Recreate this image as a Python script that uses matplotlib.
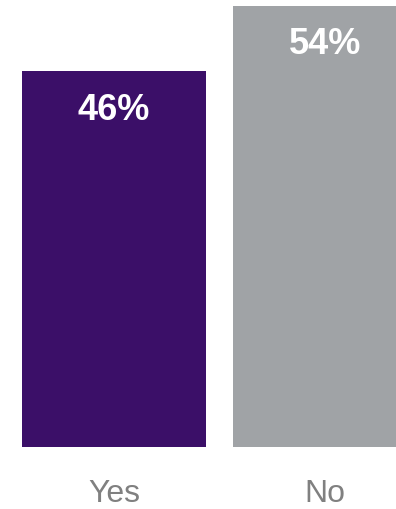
import matplotlib
matplotlib.use("Agg")
import matplotlib.pyplot as plt

# survey answers
categories = ["Yes", "No"]
shares = [46, 54]
bar_colors = ["#3b0f68", "#a0a3a6"]

plt.rcParams['font.family'] = ['Liberation Sans', 'DejaVu Sans']

fig = plt.figure(figsize=(3.96, 5.09), dpi=100)
ax = fig.add_axes([0, 0, 1, 1])

x = list(range(len(categories)))
ax.bar(x, shares, width=0.872, color=bar_colors)

# value labels inside the bars, category labels below
for xi, v, name in zip(x, shares, categories):
    ax.text(xi, v - 4.75, f"{v}%", ha='center', va='center',
            color='white', fontsize=26, fontweight='bold')
    ax.text(xi, -5.75, name, ha='center', va='center',
            color='#808080', fontsize=23)

ax.set_xlim(-0.540, 1.336)
ax.set_ylim(-7.63, 54.74)
ax.axis('off')

fig.savefig("out.png", dpi=100)
